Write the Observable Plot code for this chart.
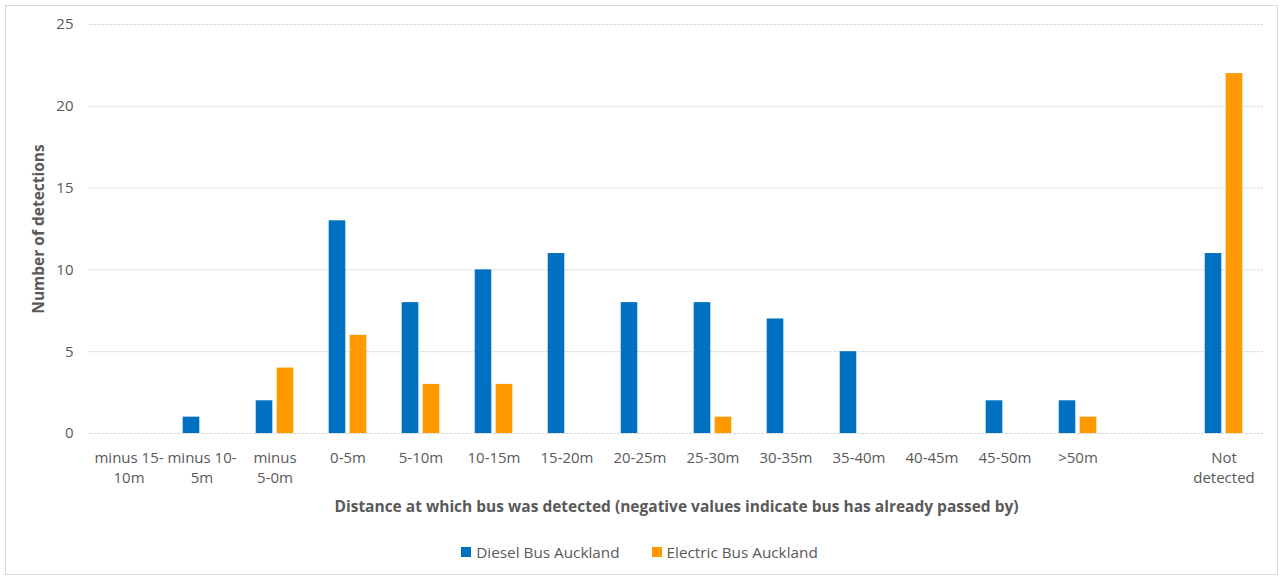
<!DOCTYPE html>
<html>
<head>
<meta charset="utf-8">
<script src="https://cdn.jsdelivr.net/npm/d3@7"></script>
<script src="https://cdn.jsdelivr.net/npm/@observablehq/plot@0.6"></script>
<style>
  html, body { margin: 0; padding: 0; background: #fff; }
  body { width: 1279px; height: 577px; overflow: hidden; position: relative; font-family: "Open Sans", sans-serif; }
  #frame { position: absolute; left: 5px; top: 5px; width: 1271px; height: 568px; border: 1px solid #d9d9d9; pointer-events: none; }
  #chart { position: absolute; left: 0; top: 0; }
  #chart svg text { fill: #595959; }
  g[aria-label="x-axis label"] text, g[aria-label="y-axis label"] text { font-weight: bold; font-size: 15.5px; }
  #legend { position: absolute; top: 542px; left: 0; width: 1279px; display: flex; justify-content: center; gap: 32px; font-size: 15.3px; color: #595959; }
  #legend span.item { display: flex; align-items: center; }
  #legend span.sw { display: inline-block; width: 10px; height: 10px; margin-right: 5px; }
</style>
</head>
<body>
<div id="chart"></div>
<div id="legend"></div>
<div id="frame"></div>
<script>
const categories = ["minus 15-10m", "minus 10-5m", "minus 5-0m", "0-5m", "5-10m", "10-15m", "15-20m", "20-25m", "25-30m", "30-35m", "35-40m", "40-45m", "45-50m", ">50m", " ", "Not detected"];
const tickLabels = ["minus 15-\n10m", "minus 10-\n5m", "minus\n5-0m", "0-5m", "5-10m", "10-15m", "15-20m", "20-25m", "25-30m", "30-35m", "35-40m", "40-45m", "45-50m", ">50m", "", "Not\ndetected"];
const series = ["Diesel Bus Auckland", "Electric Bus Auckland"];
const colors = ["#0070c0", "#ff9900"];
const diesel   = [0, 1, 2, 13, 8, 10, 11, 8, 8, 7, 5, 0, 2, 2, null, 11];
const electric = [0, 0, 4, 6, 3, 3, 0, 0, 1, 0, 0, 0, 0, 1, null, 22];
const yTicks = [0, 5, 10, 15, 20, 25];

const dieselData = categories.map((c, i) => ({cat: c, value: diesel[i]})).filter(d => d.value != null);
const electricData = categories.map((c, i) => ({cat: c, value: electric[i]})).filter(d => d.value != null);
const labelMap = new Map(categories.map((c, i) => [c, tickLabels[i]]));

const chart = Plot.plot({
  width: 1279,
  height: 520,
  marginTop: 24,
  marginBottom: 87,
  marginLeft: 89,
  marginRight: 16,
  style: {fontFamily: "Open Sans, sans-serif", fontSize: "15px", color: "#595959"},
  x: {domain: categories, padding: 0},
  y: {domain: [0, 25]},
  marks: [
    Plot.gridY(yTicks, {stroke: "#d9d9d9", strokeOpacity: 1, strokeDasharray: "3,1"}),
    Plot.barY(dieselData, {x: "cat", y: "value", fill: colors[0], insetLeft: 17.7, insetRight: 38.7}),
    Plot.barY(electricData, {x: "cat", y: "value", fill: colors[1], insetLeft: 38.7, insetRight: 17.7}),
    Plot.axisY(yTicks, {tickSize: 0, tickPadding: 16, label: "Number of detections", labelAnchor: "center", labelArrow: "none", labelOffset: 57, fontSize: 15}),
    Plot.axisX({anchor: "bottom", tickSize: 0, tickPadding: 15, lineHeight: 1.33, tickFormat: d => labelMap.get(d), label: "Distance at which bus was detected (negative values indicate bus has already passed by)", labelAnchor: "center", labelArrow: "none", labelOffset: 78, fontSize: 15})
  ]
});
document.getElementById("chart").appendChild(chart);

const legend = document.getElementById("legend");
series.forEach((s, i) => {
  const item = document.createElement("span");
  item.className = "item";
  const sw = document.createElement("span");
  sw.className = "sw";
  sw.style.background = colors[i];
  item.appendChild(sw);
  item.appendChild(document.createTextNode(s));
  legend.appendChild(item);
});
</script>
</body>
</html>
